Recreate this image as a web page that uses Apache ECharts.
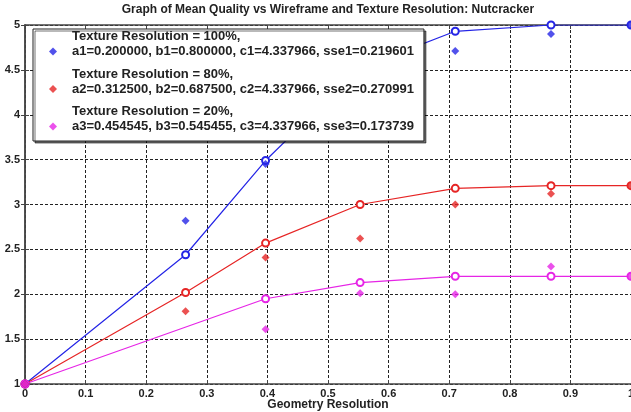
<!DOCTYPE html>
<html>
<head>
<meta charset="utf-8">
<script src="https://cdn.jsdelivr.net/npm/echarts@6/dist/echarts.min.js"></script>
<style>
  html, body { margin: 0; padding: 0; background: #fff; }
  #chart { width: 631px; height: 412px; }
</style>
</head>
<body>
<div id="chart"></div>
<script>
// Geometry resolution sample points
const geomRes = [0, 0.265, 0.397, 0.553, 0.71, 0.868, 1.0];
const geomResLow = [0, 0.397, 0.553, 0.71, 0.868, 1.0];

// Texture 100%: fitted curve and measured means
const fit100 = [1, 2.44, 3.49, 4.52, 4.93, 5.0, 5.0];
const meas100 = [1, 2.82, 3.45, null, 4.71, 4.9, 5.0];

// Texture 80%
const fit80 = [1, 2.02, 2.57, 3.0, 3.18, 3.21, 3.21];
const meas80 = [1, 1.81, 2.41, 2.62, 3.0, 3.12, 3.21];

// Texture 20%
const fit20 = [1, 1.95, 2.13, 2.2, 2.2, 2.2];
const meas20 = [1, 1.61, 2.01, 2.0, 2.31, 2.2];

// Legend text
const seriesNames = ['Texture Resolution = 100%,', 'Texture Resolution = 80%,', 'Texture Resolution = 20%,'];
const fitParams = [
  'a1=0.200000, b1=0.800000, c1=4.337966, sse1=0.219601',
  'a2=0.312500, b2=0.687500, c2=4.337966, sse2=0.270991',
  'a3=0.454545, b3=0.545455, c3=4.337966, sse3=0.173739'
];

// Tick labels
const xTickLabels = ['0', '0.1', '0.2', '0.3', '0.4', '0.5', '0.6', '0.7', '0.8', '0.9', '1'];
const yTickLabels = ['1', '1.5', '2', '2.5', '3', '3.5', '4', '4.5', '5'];

const titleText = 'Graph of Mean Quality vs Wireframe and Texture Resolution: Nutcracker';
const xName = 'Geometry Resolution';

const colors = ['#2525e6', '#e62525', '#e625e6'];
const FONT = 'Liberation Sans, Arial, sans-serif';

// Legend marker: a small diamond sitting level with the second text line
// (the two stray points stretch the icon box to the full two-line height).
const legendIcon = 'path://M4,0L4,0M4,30L4,30M4,18.5L8,22.5L4,26.5L0,22.5Z';

function pairs(xs, ys) {
  const out = [];
  xs.forEach((x, i) => { if (ys[i] != null) out.push([x, ys[i]]); });
  return out;
}

const fits = [pairs(geomRes, fit100), pairs(geomRes, fit80), pairs(geomResLow, fit20)];
const meas = [pairs(geomRes, meas100), pairs(geomRes, meas80), pairs(geomResLow, meas20)];

const series = [];
for (let i = 0; i < 3; i++) {
  series.push({
    name: 'fit' + i,
    type: 'line',
    data: fits[i],
    symbol: 'emptyCircle',
    symbolSize: 7,
    showAllSymbol: true,
    lineStyle: { color: colors[i], width: 1.2 },
    itemStyle: { color: colors[i], borderColor: colors[i], borderWidth: 2 },
    z: 3,
    animation: false,
    silent: true
  });
  series.push({
    name: seriesNames[i],
    type: 'scatter',
    data: meas[i],
    symbol: 'diamond',
    symbolSize: 8,
    itemStyle: { color: colors[i] },
    z: 4,
    animation: false,
    silent: true
  });
}

const gridLine = { show: true, lineStyle: { color: '#222', type: [3, 2], width: 1 } };
const boxLine = { show: true, lineStyle: { color: '#444', width: 1.5 } };
const inTick = { show: true, inside: true, length: 4, lineStyle: { color: '#444' } };
const tickFont = { fontFamily: FONT, fontSize: 11, fontWeight: 'bold', color: '#222' };
const headFont = { fontFamily: FONT, fontSize: 12, fontWeight: 'bold', color: '#222' };

const chart = echarts.init(document.getElementById('chart'), null, { renderer: 'canvas' });
chart.setOption({
  backgroundColor: '#fff',
  animation: false,
  title: [
    { text: titleText, left: 328, top: 4, textAlign: 'center', padding: 0, textStyle: headFont },
    // x-axis caption below the tick labels
    { text: xName, left: 328, top: 399, textAlign: 'center', padding: 0, textStyle: headFont }
  ],
  grid: { left: 25, right: 0, top: 25, bottom: 28, containLabel: false, outerBoundsMode: 'none' },
  legend: {
    orient: 'vertical',
    left: 33, top: 29,
    data: seriesNames.map(n => ({ name: n, icon: legendIcon })),
    selectedMode: false,
    itemWidth: 8, itemHeight: 30,
    itemGap: 7.5,
    padding: [0, 10, 7, 16],
    backgroundColor: '#fff',
    borderColor: '#222',
    borderWidth: 1,
    shadowColor: 'rgba(0,0,0,0.55)',
    shadowBlur: 0,
    shadowOffsetX: 2,
    shadowOffsetY: 2,
    formatter: name => name + '\n' + fitParams[seriesNames.indexOf(name)],
    textStyle: { fontFamily: FONT, fontSize: 13, fontWeight: 'bold', lineHeight: 15, color: '#222', padding: [0, 0, 0, 10] }
  },
  xAxis: [{
    type: 'value', min: 0, max: 1, interval: 0.1,
    axisLine: boxLine, axisTick: inTick, splitLine: gridLine,
    axisLabel: Object.assign({ margin: 4, formatter: v => xTickLabels[Math.round(v * 10)] }, tickFont)
  }, {
    type: 'value', min: 0, max: 1, interval: 0.1, position: 'top',
    axisLine: boxLine, axisTick: inTick, splitLine: { show: false }, axisLabel: { show: false }
  }],
  yAxis: [{
    type: 'value', min: 1, max: 5, interval: 0.5,
    axisLine: boxLine, axisTick: inTick, splitLine: gridLine,
    axisLabel: Object.assign({ margin: 5, formatter: v => yTickLabels[Math.round((v - 1) * 2)] }, tickFont)
  }, {
    type: 'value', min: 1, max: 5, interval: 0.5, position: 'right',
    axisLine: boxLine, axisTick: inTick, splitLine: { show: false }, axisLabel: { show: false }
  }],
  series: series
});
</script>
</body>
</html>
